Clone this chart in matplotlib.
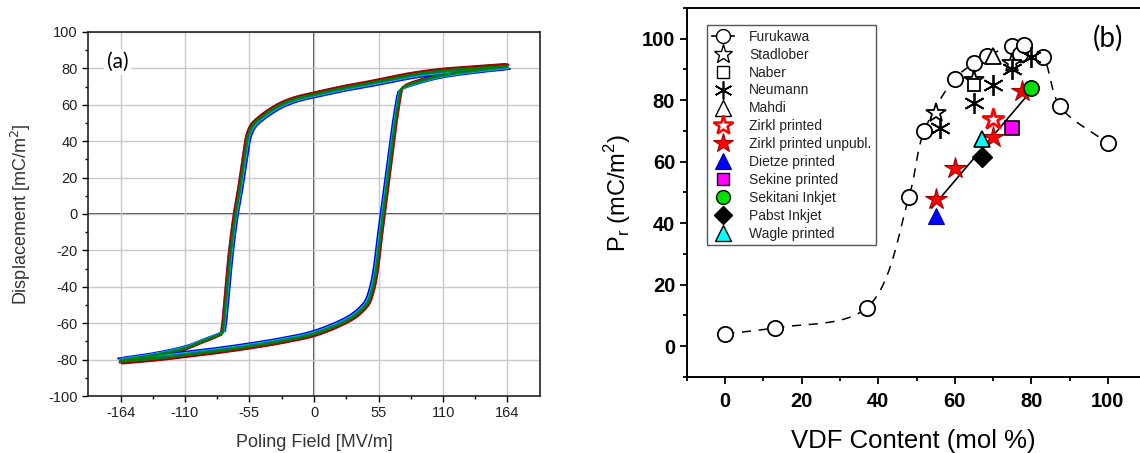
import matplotlib
matplotlib.use('Agg')
import matplotlib.pyplot as plt
from matplotlib.ticker import MultipleLocator, FixedLocator
from matplotlib.lines import Line2D
import numpy as np

plt.rcParams['font.family'] = ['Liberation Sans', 'DejaVu Sans']
plt.rcParams['axes.unicode_minus'] = False

# ---------------- (a) hysteresis loop ----------------
# descending branch (from +164 down to the switching corner), then on to -164
desc1_x = [164, 137, 110, 82, 55, 27, 0, -15, -27, -38, -46, -52, -56, -58.7, -63, -67, -71, -74, -76.5, -78]
desc1_y = [81.3, 80.0, 78.7, 76.3, 72.8, 69.5, 65.7, 63.4, 60.5, 56.4, 52.6, 48.9, 43.4, 33.5, 15, 0, -20, -40, -58, -65.5]
desc2_x = [-78, -85, -95, -110, -137, -164]
desc2_y = [-65.5, -67.5, -70.0, -73.8, -77.8, -80.5]
# ascending branch
asc1_x = [-164, -137, -110, -82, -55, -27, 0, 22, 33.5, 41, 46, 50, 53, 56, 59, 63, 67, 70, 73, 74]
asc1_y = [-81.0, -79.5, -77.5, -75.3, -72.8, -69.8, -66.0, -60.5, -56.5, -52.5, -48.5, -41, -31, -15, 0, 20, 40, 54, 66, 68.5]
asc2_x = [74, 78, 90, 110, 137, 164]
asc2_y = [68.5, 70.3, 73.0, 76.4, 79.0, 81.0]

# individual cycles: colour, coercive-field widening (MV/m), polarisation factor
cycle_colors = ['#d000d0', '#a00000', '#0000ff', '#00c8c8', '#007878', '#008000']
cycle_dE = [1.2, 1.0, -2.4, -1.2, -0.6, 0.0]
cycle_pf = [1.010, 1.014, 0.980, 0.988, 0.994, 1.002]

# ---------------- (b) remanent polarisation vs VDF content ----------------
furukawa_x = [0, 13, 37, 48, 52, 60, 65, 68.5, 75, 77, 78, 83, 87.5, 100]
furukawa_y = [4, 6, 12.5, 48.5, 70, 87, 92, 94.5, 97.5, 95, 98, 94, 78, 66]
furukawa_curve = [True, True, True, True, True, True, True, True, True, False, True, True, True, True]
stadlober_x = [55, 65, 75]
stadlober_y = [76, 86.5, 92]
naber_x = [65]
naber_y = [85]
neumann_x = [56, 65, 70, 75, 80]
neumann_y = [71, 79, 85, 90, 94]
mahdi_x = [70]
mahdi_y = [94.5]
zirkl_x = [70]
zirkl_y = [74]
zirkl_unpubl_x = [55, 60, 70, 77.5]
zirkl_unpubl_y = [48, 58, 68, 83]
dietze_x = [55]
dietze_y = [42.5]
sekine_x = [75]
sekine_y = [71]
sekitani_x = [80]
sekitani_y = [84]
pabst_x = [67]
pabst_y = [61.5]
wagle_x = [67]
wagle_y = [67.5]
fit_x = [54, 80.4]
fit_y = [45, 83.7]


def smooth(xs, ys, sx=1.0, sy=1.0, n=25):
    """centripetal Catmull-Rom through the given points (sx, sy = px per unit)"""
    p = np.column_stack([np.asarray(xs, float) * sx, np.asarray(ys, float) * sy])
    p = np.vstack([2 * p[0] - p[1], p, 2 * p[-1] - p[-2]])
    out = []
    for i in range(1, len(p) - 2):
        p0, p1, p2, p3 = p[i - 1], p[i], p[i + 1], p[i + 2]
        t0 = 0.0
        t1 = t0 + np.linalg.norm(p1 - p0) ** 0.5 + 1e-9
        t2 = t1 + np.linalg.norm(p2 - p1) ** 0.5 + 1e-9
        t3 = t2 + np.linalg.norm(p3 - p2) ** 0.5 + 1e-9
        t = np.linspace(t1, t2, n)[:, None]
        a1 = (t1 - t) / (t1 - t0) * p0 + (t - t0) / (t1 - t0) * p1
        a2 = (t2 - t) / (t2 - t1) * p1 + (t - t1) / (t2 - t1) * p2
        a3 = (t3 - t) / (t3 - t2) * p2 + (t - t2) / (t3 - t2) * p3
        b1 = (t2 - t) / (t2 - t0) * a1 + (t - t0) / (t2 - t0) * a2
        b2 = (t3 - t) / (t3 - t1) * a2 + (t - t1) / (t3 - t1) * a3
        c = (t2 - t) / (t2 - t1) * b1 + (t - t1) / (t2 - t1) * b2
        out.append(c if i == len(p) - 3 else c[:-1])
    c = np.vstack(out)
    return c[:, 0] / sx, c[:, 1] / sy


fig = plt.figure(figsize=(11.4, 4.53), dpi=100)

# ============================ panel (a) ============================
ax = fig.add_axes([0.0772, 0.1258, 0.3965, 0.8036])
txt = '#333333'
for col, dE, pf in zip(cycle_colors, cycle_dE, cycle_pf):
    for bx_, by_, sgn in [(desc1_x, desc1_y, -1), (desc2_x, desc2_y, -1),
                          (asc1_x, asc1_y, 1), (asc2_x, asc2_y, 1)]:
        sxs, sys_ = smooth(bx_, by_, 1.175, 1.82)
        ax.plot(sxs + sgn * dE, sys_ * pf, color=col, lw=1.5, solid_capstyle='round', zorder=3)

ax.set_xlim(-192, 192)
ax.set_ylim(-100, 100)
ax.xaxis.set_major_locator(FixedLocator([-164, -110, -55, 0, 55, 110, 164]))
ax.xaxis.set_minor_locator(FixedLocator([-137, -82.5, -27.5, 27.5, 82.5, 137]))
ax.yaxis.set_major_locator(MultipleLocator(20))
ax.yaxis.set_minor_locator(MultipleLocator(10))
ax.grid(True, which='major', color='#c8c8c8', lw=1.0, zorder=0)
ax.axvline(0, color='#222222', lw=1.2, zorder=1)
ax.axhline(0, color='#222222', lw=1.2, zorder=1)
ax.tick_params(which='major', direction='out', length=4, width=1, labelsize=10.5, labelcolor='#222222')
ax.tick_params(which='minor', direction='out', length=2.5, width=1)
for s in ax.spines.values():
    s.set_linewidth(1.2)
    s.set_color('#222222')
ax.set_xlabel('Poling Field [MV/m]', fontsize=13, color=txt, labelpad=10)
ax.set_ylabel('Displacement [mC/m$^2$]', fontsize=13, color=txt, labelpad=11)
ax.text(0.066, 0.918, '(a)', transform=ax.transAxes, fontsize=15, family=['Lato', 'DejaVu Sans'],
        ha='center', va='center', bbox=dict(fc='white', ec='none', pad=2), zorder=5)

# ============================ panel (b) ============================
bx = fig.add_axes([0.6026, 0.1678, 0.3974, 0.8146])
cx = [x for x, k in zip(furukawa_x, furukawa_curve) if k]
cy = [y for y, k in zip(furukawa_y, furukawa_curve) if k]
sx_, sy_ = smooth(cx, cy, 3.82, 3.08)
bx.plot(sx_, sy_, color='black', lw=1.1, ls=(0, (6, 5)), zorder=2)
bx.plot(fit_x, fit_y, color='black', lw=1.2, zorder=2)

bx.plot(furukawa_x, furukawa_y, ls='none', marker='o', ms=11, mfc='white', mec='black', mew=1.3, zorder=3)
bx.plot(stadlober_x, stadlober_y, ls='none', marker='*', ms=15, mfc='white', mec='black', mew=1.3, zorder=4)
bx.plot(naber_x, naber_y, ls='none', marker='s', ms=9, mfc='white', mec='black', mew=1.3, zorder=4)
bx.plot(neumann_x, neumann_y, ls='none', marker=(6, 2, 0), ms=15, mec='black', mew=1.3, zorder=4)
bx.plot(mahdi_x, mahdi_y, ls='none', marker='^', ms=11, mfc='white', mec='black', mew=1.3, zorder=4)
bx.plot(zirkl_x, zirkl_y, ls='none', marker='*', ms=16, mfc='white', mec='red', mew=2.0, zorder=4)
bx.plot(zirkl_unpubl_x, zirkl_unpubl_y, ls='none', marker='*', ms=16, mfc='red', mec='#a00000', mew=0.8, zorder=4)
bx.plot(dietze_x, dietze_y, ls='none', marker='^', ms=11, mfc='#0000ff', mec='#0000a0', mew=0.8, zorder=4)
bx.plot(sekine_x, sekine_y, ls='none', marker='s', ms=9.5, mfc='#ff00ff', mec='black', mew=1.2, zorder=4)
bx.plot(sekitani_x, sekitani_y, ls='none', marker='o', ms=11, mfc='#00e000', mec='black', mew=1.2, zorder=5)
bx.plot(pabst_x, pabst_y, ls='none', marker='D', ms=10, mfc='black', mec='black', mew=1, zorder=4)
bx.plot(wagle_x, wagle_y, ls='none', marker='^', ms=11, mfc='#00ffff', mec='black', mew=1.2, zorder=4)

handles = [
    Line2D([], [], color='black', lw=1.2, marker='o', ms=10, mfc='white', mec='black'),
    Line2D([], [], ls='none', marker='*', ms=14, mfc='white', mec='black'),
    Line2D([], [], ls='none', marker='s', ms=9, mfc='white', mec='black'),
    Line2D([], [], ls='none', marker=(6, 2, 0), ms=13, mec='black', mew=1.2),
    Line2D([], [], ls='none', marker='^', ms=11, mfc='white', mec='black'),
    Line2D([], [], ls='none', marker='*', ms=15, mfc='white', mec='red', mew=1.8),
    Line2D([], [], ls='none', marker='*', ms=15, mfc='red', mec='#a00000', mew=0.8),
    Line2D([], [], ls='none', marker='^', ms=11, mfc='#0000ff', mec='#0000a0', mew=0.8),
    Line2D([], [], ls='none', marker='s', ms=9, mfc='#ff00ff', mec='black'),
    Line2D([], [], ls='none', marker='o', ms=10, mfc='#00e000', mec='black'),
    Line2D([], [], ls='none', marker='D', ms=9, mfc='black', mec='black'),
    Line2D([], [], ls='none', marker='^', ms=11, mfc='#00ffff', mec='black'),
]
labels = ['Furukawa', 'Stadlober', 'Naber', 'Neumann', 'Mahdi', 'Zirkl printed',
          'Zirkl printed unpubl.', 'Dietze printed', 'Sekine printed', 'Sekitani Inkjet',
          'Pabst Inkjet', 'Wagle printed']
leg = bx.legend(handles, labels, loc='upper left', bbox_to_anchor=(0.044, 0.954),
                borderaxespad=0, fontsize=10, labelspacing=0.28, handlelength=1.6,
                handletextpad=1.1, borderpad=0.35, fancybox=False, framealpha=1,
                edgecolor='#555555', labelcolor='#222222')
leg.get_frame().set_linewidth(1.0)

bx.set_xlim(-10, 108.4)
bx.set_ylim(-10, 110)
bx.xaxis.set_major_locator(FixedLocator([0, 20, 40, 60, 80, 100]))
bx.xaxis.set_minor_locator(FixedLocator([-10, 10, 30, 50, 70, 90]))
bx.yaxis.set_major_locator(FixedLocator([0, 20, 40, 60, 80, 100]))
bx.yaxis.set_minor_locator(FixedLocator([-10, 10, 30, 50, 70, 90, 110]))
bx.tick_params(which='major', direction='out', length=5, width=1.3, labelsize=14.5)
bx.tick_params(axis='x', which='major', pad=6)
bx.tick_params(which='minor', direction='out', length=3, width=1.3)
for lab in bx.get_xticklabels() + bx.get_yticklabels():
    lab.set_fontweight('bold')
for s in bx.spines.values():
    s.set_linewidth(1.4)
bx.spines['right'].set_visible(False)
bx.set_xlabel('VDF Content (mol %)', fontsize=18.5, labelpad=13)
bx.set_ylabel('P$_\\mathregular{r}$ (mC/m$^\\mathregular{2}$)', fontsize=17, labelpad=6)
bx.text(0.929, 0.919, '(b)', transform=bx.transAxes, fontsize=20, family=['Lato', 'DejaVu Sans'],
        ha='center', va='center')

fig.savefig('out.png', dpi=100, facecolor='white')
